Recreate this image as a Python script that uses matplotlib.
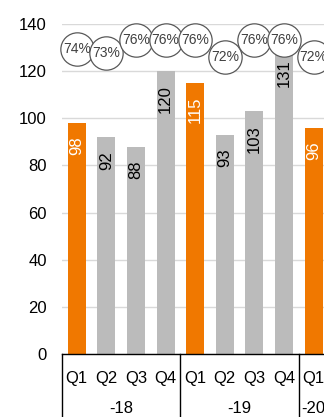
import matplotlib
matplotlib.use("Agg")
import matplotlib.pyplot as plt
import matplotlib.transforms as mtransforms

plt.rcParams['font.family'] = ['Liberation Sans', 'DejaVu Sans']

quarters = ["Q1", "Q2", "Q3", "Q4", "Q1", "Q2", "Q3", "Q4", "Q1"]
values = [98, 92, 88, 120, 115, 93, 103, 131, 96]
shares = [74, 73, 76, 76, 76, 72, 76, 76, 72]
years = ["-18", "-19", "-20"]
year_sizes = [4, 4, 1]

orange = "#F07800"
grey = "#BBBBBB"

fig = plt.figure(figsize=(3.24, 4.17), dpi=100)
ax = fig.add_axes([0.1914, 0.1511, 0.822, 0.7914])

x = list(range(len(values)))
colors = [orange if q == "Q1" else grey for q in quarters]
ax.bar(x, values, width=0.61, color=colors, zorder=2)

for i, v in enumerate(values):
    ax.annotate(str(v), (i, v), xytext=(0, -10), textcoords="offset points",
                rotation=90, ha="center", va="top", fontsize=12,
                color="white" if quarters[i] == "Q1" else "black", zorder=3)

ax.set_xlim(-0.5, len(values) - 0.5)
ax.set_ylim(0, 140)
ax.set_yticks(range(0, 141, 20))
ax.yaxis.grid(True, color="#D9D9D9", linewidth=1, zorder=0)
ax.tick_params(axis="y", length=0, pad=11, labelsize=12)
ax.set_xticks([])
for s in ["top", "right", "left"]:
    ax.spines[s].set_visible(False)
ax.spines["bottom"].set_color("black")
ax.spines["bottom"].set_linewidth(1)
ax.spines["bottom"].set_zorder(4)

# two-level category axis
trans = mtransforms.blended_transform_factory(ax.transData, ax.transAxes)
for i, q in enumerate(quarters):
    ax.text(i, -0.073, q, transform=trans, ha="center", va="center", fontsize=12)
start = -0.5
ax.plot([start, start], [0, -0.2], transform=trans, color="black", lw=1, clip_on=False)
for y, n in zip(years, year_sizes):
    ax.text(start + n / 2, -0.164, y, transform=trans, ha="center", va="center", fontsize=12)
    start += n
    ax.plot([start, start], [0, -0.2], transform=trans, color="black", lw=1, clip_on=False)

# share markers on secondary axis
ax2 = ax.twinx()
ax2.set_ylim(0, 80)
ax2.axis("off")
ax2.plot(x, shares, "o", ms=24, mfc="white", mec="#595959", mew=0.9, clip_on=False)
for i, p in enumerate(shares):
    ax2.text(i, p, f"{p}%", ha="center", va="center", fontsize=10, color="#404040", clip_on=False)

fig.savefig("out.png", dpi=100)
